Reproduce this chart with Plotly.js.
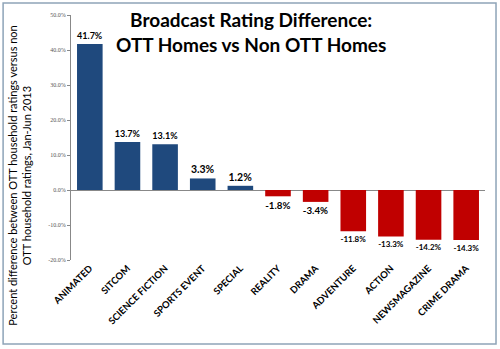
<!DOCTYPE html>
<html><head><meta charset="utf-8">
<script src="https://cdn.plot.ly/plotly-3.0.1.min.js"></script>
<style>html,body{margin:0;padding:0;background:#fff;}#chart{width:500px;height:349px;}</style>
</head><body><div id="chart"></div>
<script>
const categories = ["ANIMATED","SITCOM","SCIENCE FICTION","SPORTS EVENT","SPECIAL","REALITY","DRAMA","ADVENTURE","ACTION","NEWSMAGAZINE","CRIME DRAMA"];
const values = [41.7, 13.7, 13.1, 3.3, 1.2, -1.8, -3.4, -11.8, -13.3, -14.2, -14.3];
const tickVals = [-20, -10, 0, 10, 20, 30, 40, 50];
const tickText = ["-20.0%","-10.0%","0.0%","10.0%","20.0%","30.0%","40.0%","50.0%"];
const yTitle = "Percent difference between OTT household ratings versus non<br>OTT household ratings, Jan-Jun 2013";

const colors = values.map(v => v >= 0 ? "#1F497D" : "#C00000");
const labels = values.map(v => v.toFixed(1) + "%");

const trace = {
  type: "bar", x: categories, y: values,
  marker: {color: colors},
  text: labels, textposition: "outside", cliponaxis: false,
  textfont: {family: "Lato, 'Open Sans', sans-serif", size: 10.5, color: "#000", weight: "bold"},
  width: 0.68, hoverinfo: "none"
};

const layout = {
  width: 500, height: 349,
  margin: {l: 71, r: 15, t: 15, b: 89},
  paper_bgcolor: "#fff", plot_bgcolor: "#fff",
  showlegend: false,
  xaxis: {
    tickangle: -45, tickfont: {family: "Lato, 'Open Sans', sans-serif", size: 9.5, color: "#000", weight: "bold"},
    showline: false, ticks: "", zeroline: false, showgrid: false
  },
  yaxis: {
    range: [-20, 50], tickvals: tickVals, ticktext: tickText,
    tickfont: {family: "'Liberation Serif', serif", size: 6, color: "#555"},
    showline: true, linecolor: "#888", linewidth: 1,
    ticks: "outside", ticklen: 3, tickcolor: "#888",
    showgrid: false, zeroline: true, zerolinecolor: "#888", zerolinewidth: 1
  },
  annotations: [{
    text: "<b>Broadcast Rating Difference:<br>OTT Homes vs Non OTT Homes</b>",
    xref: "paper", yref: "paper", x: 0.435, y: 1.035, xanchor: "center", yanchor: "top",
    showarrow: false, align: "center",
    font: {family: "Lato, 'Open Sans', sans-serif", size: 19, color: "#000"}
  }, {
    text: yTitle, textangle: -90,
    xref: "paper", yref: "paper", x: -0.125, y: 0.345, xanchor: "center", yanchor: "middle",
    showarrow: false, align: "center",
    font: {family: "Lato, 'Open Sans', sans-serif", size: 11, color: "#000"}
  }],
  shapes: [{type: "rect", xref: "paper", yref: "paper", x0: -0.164, x1: 1.0266, y0: -0.343, y1: 1.049,
    line: {color: "#8EA4B8", width: 1.5}}]
};
Plotly.newPlot("chart", [trace], layout, {displayModeBar: false, staticPlot: true});
</script></body></html>
